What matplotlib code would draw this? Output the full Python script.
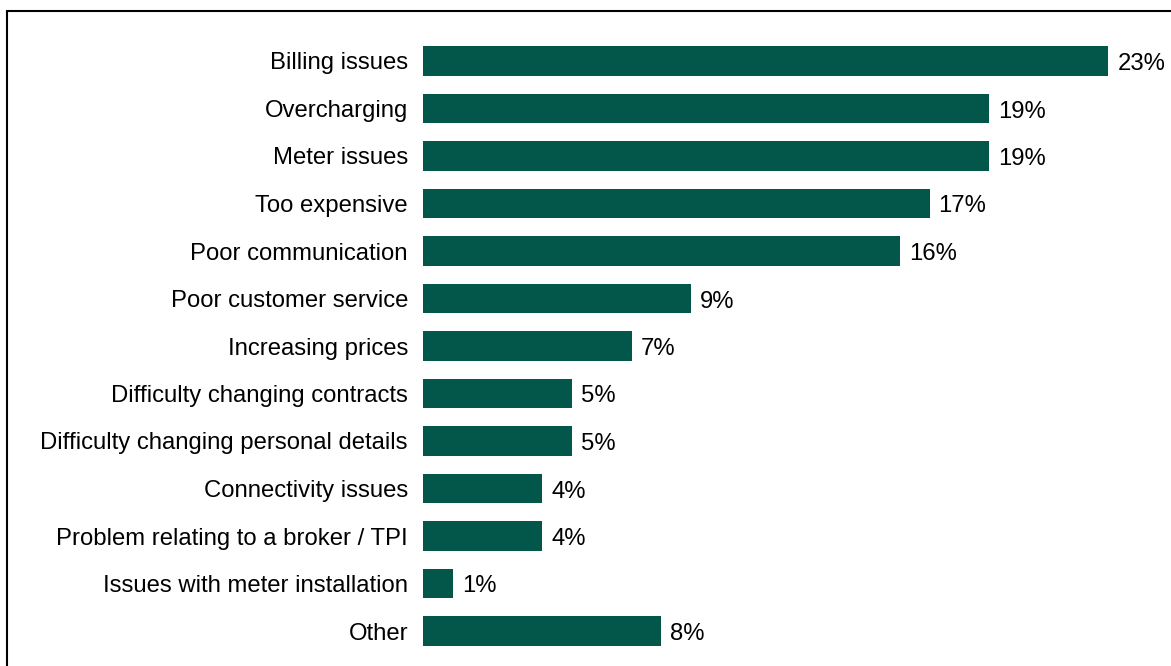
import matplotlib
matplotlib.use("Agg")
import matplotlib.pyplot as plt
from matplotlib.patches import Rectangle

categories = [
    "Billing issues",
    "Overcharging",
    "Meter issues",
    "Too expensive",
    "Poor communication",
    "Poor customer service",
    "Increasing prices",
    "Difficulty changing contracts",
    "Difficulty changing personal details",
    "Connectivity issues",
    "Problem relating to a broker / TPI",
    "Issues with meter installation",
    "Other",
]
values = [23, 19, 19, 17, 16, 9, 7, 5, 5, 4, 4, 1, 8]

BAR_COLOR = "#02574a"
W, H = 1171, 666
FS = 17.2

plt.rcParams["font.family"] = ["Liberation Sans", "DejaVu Sans"]

fig = plt.figure(figsize=(W / 100, H / 100), dpi=100)

# axes placed in pixel terms
left_px, right_px = 423, 423 + 25 * 29.8
top_px, bottom_px = 37.25, 654.75
ax = fig.add_axes([left_px / W, 1 - bottom_px / H,
                   (right_px - left_px) / W, (bottom_px - top_px) / H])

ypos = list(range(len(categories)))
ax.barh(ypos, values, height=0.63, color=BAR_COLOR)
ax.set_xlim(0, 25)
ax.set_ylim(len(categories) - 0.5, -0.5)

for y, v in zip(ypos, values):
    ax.annotate(f"{v}%", xy=(v, y), xytext=(9, -3), textcoords="offset pixels",
                va="center", ha="left", fontsize=FS, color="black")

ax.set_yticks(ypos)
ax.set_yticklabels(categories, fontsize=FS, color="black")
ax.tick_params(axis="y", length=0, pad=10.8)
ax.set_xticks([])
for s in ax.spines.values():
    s.set_visible(False)

# frame around the chart (right and bottom edges fall outside the canvas)
fig.patches.append(Rectangle((7 / W, -0.05), 1.1, 1.05 - 11 / H,
                             transform=fig.transFigure, fill=False,
                             edgecolor="black", linewidth=1.5))

fig.savefig("out.png", dpi=100)
